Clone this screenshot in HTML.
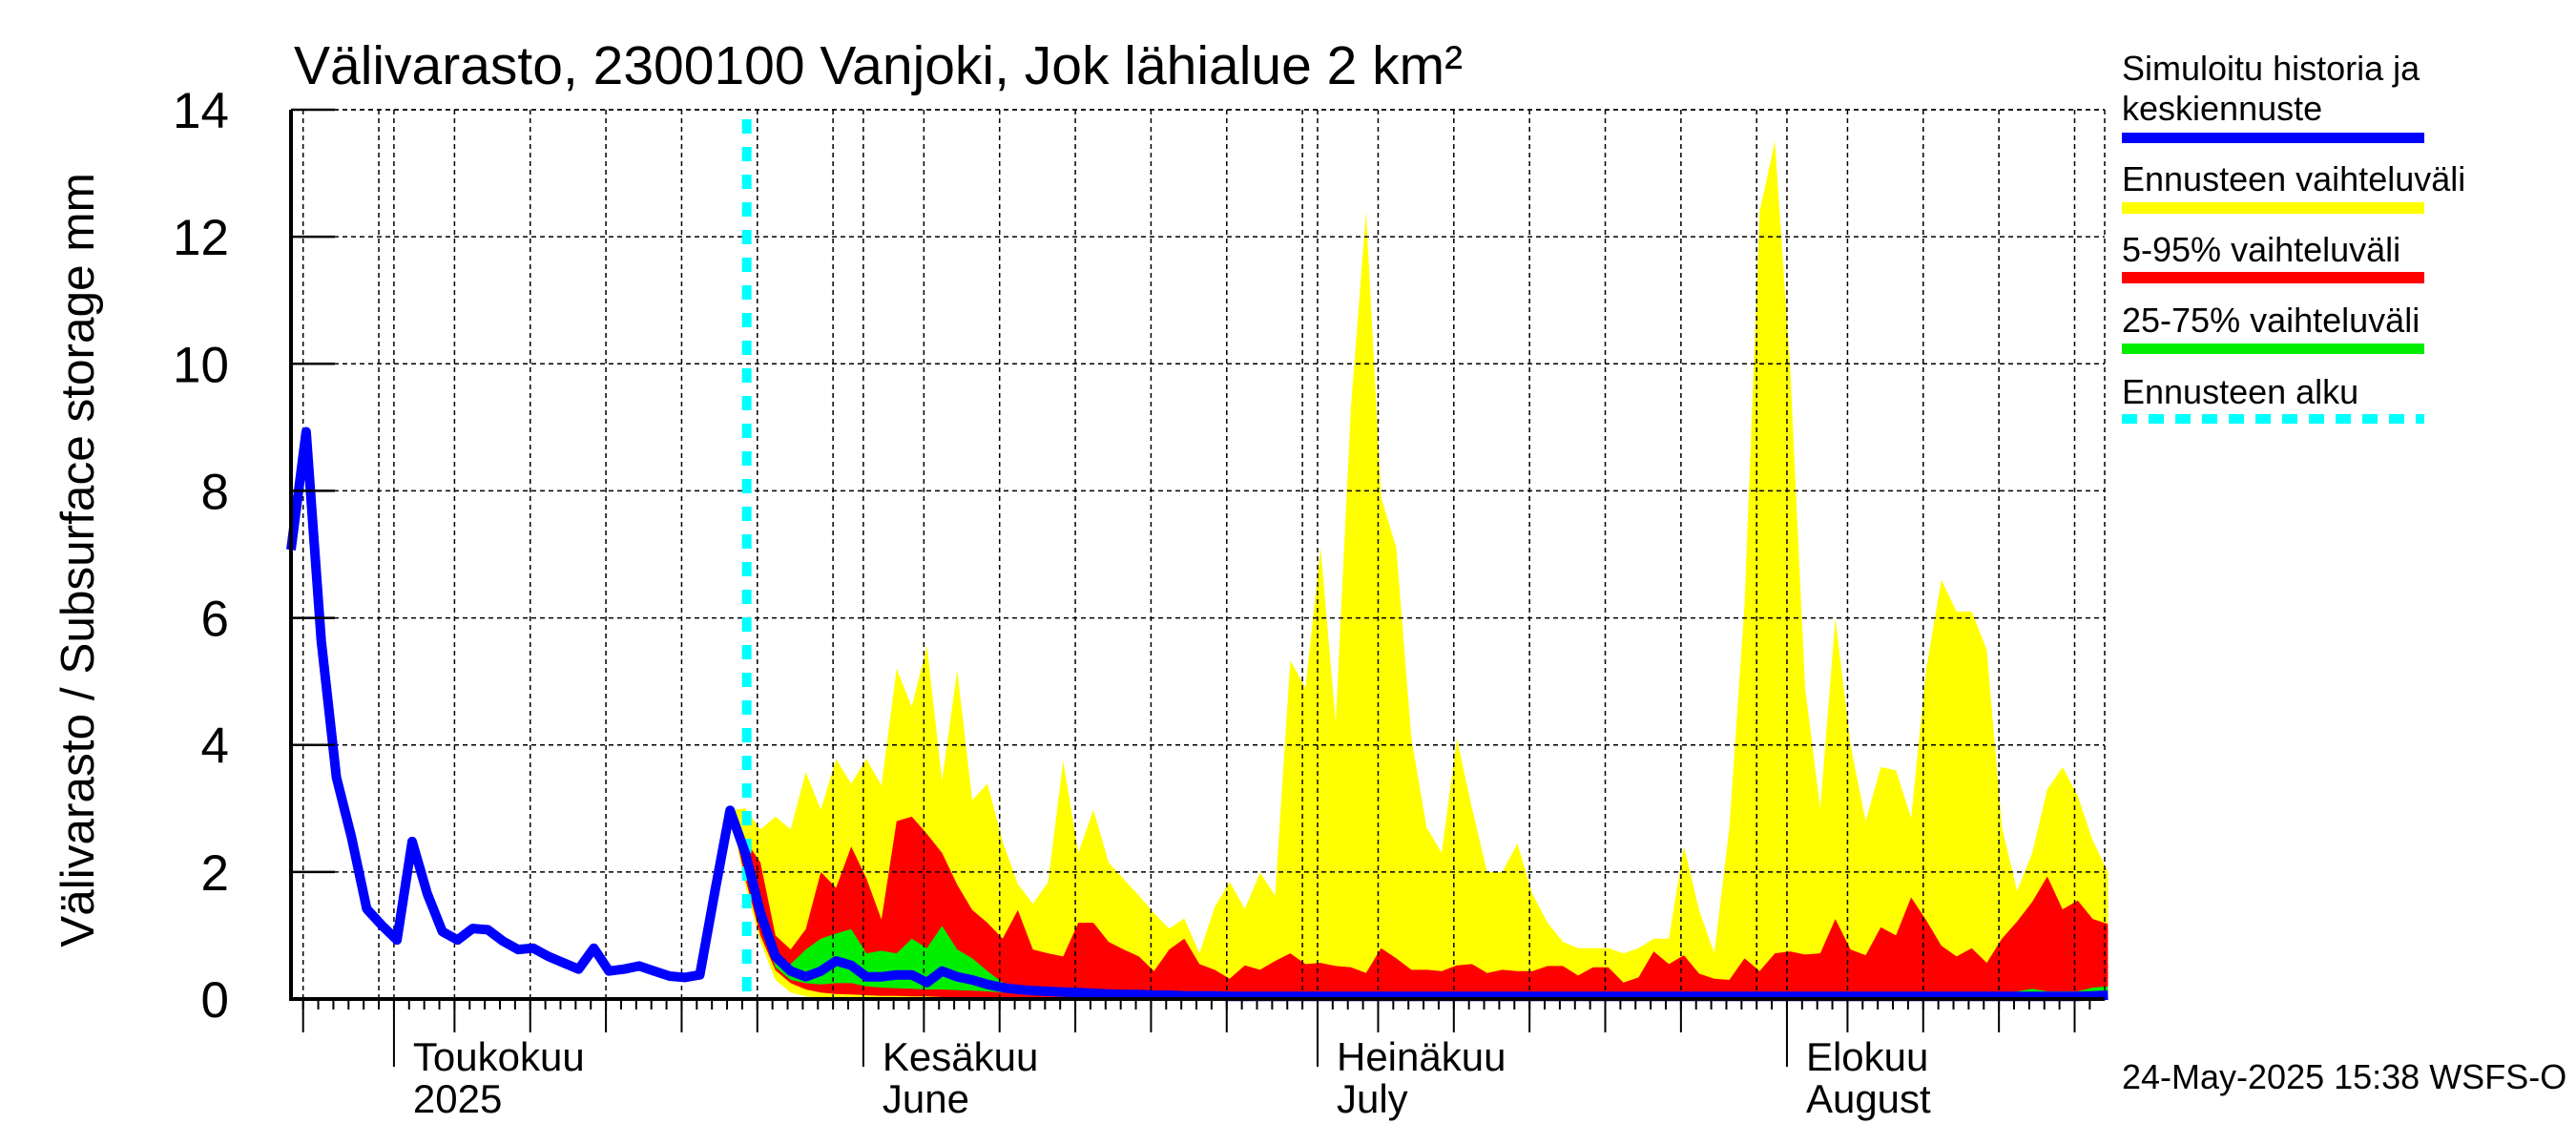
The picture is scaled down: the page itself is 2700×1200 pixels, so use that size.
<!DOCTYPE html>
<html><head><meta charset="utf-8"><style>
html,body{margin:0;padding:0;background:#fff}
svg{display:block;font-family:"Liberation Sans",sans-serif}
</style></head><body>
<svg id="chart" width="2700" height="1200" viewBox="0 0 2700 1200" xmlns="http://www.w3.org/2000/svg">
<g id="bands"></g>
<g id="grid"></g>
<g id="lines"></g>
<g id="axes"></g>
<text x="308" y="88" font-size="57">Välivarasto, 2300100 Vanjoki, Jok lähialue 2 km²</text>
<text transform="translate(98,587) rotate(-90)" text-anchor="middle" font-size="49.5">Välivarasto / Subsurface storage  mm</text>
<g font-size="36">
<text x="2224" y="84">Simuloitu historia ja</text>
<text x="2224" y="126">keskiennuste</text>
<rect x="2224" y="139" width="317" height="11" fill="#0000ff"/>
<text x="2224" y="200">Ennusteen vaihteluväli</text>
<rect x="2224" y="212" width="317" height="12" fill="#ffff00"/>
<text x="2224" y="274">5-95% vaihteluväli</text>
<rect x="2224" y="285" width="317" height="12" fill="#ff0000"/>
<text x="2224" y="348">25-75% vaihteluväli</text>
<rect x="2224" y="360" width="317" height="11" fill="#00ee00"/>
<text x="2224" y="423">Ennusteen alku</text>
<line x1="2224" y1="439" x2="2541" y2="439" stroke="#00ffff" stroke-width="10" stroke-dasharray="16,12"/>
</g>
<text x="2224" y="1141" font-size="36">24-May-2025 15:38 WSFS-O</text>
</svg>
<script>
// day index 0 = left edge; May 1 = index 6.8
const history = [7.07,8.93,5.64,3.49,2.54,1.42,1.16,0.93,2.48,1.66,1.06,0.93,1.11,1.09,0.91,0.78,0.80,0.67,0.57,0.47,0.80,0.44,0.47,0.52,0.44,0.36,0.34,0.38,1.7,2.97];
const fcStart = 29;
const median = [2.97,2.3,1.36,0.67,0.44,0.35,0.44,0.6,0.53,0.35,0.35,0.38,0.38,0.26,0.44,0.35,0.3,0.23,0.18,0.15,0.13,0.12,0.11,0.1,0.09,0.08,0.07,0.07,0.06,0.06,0.05,0.05,0.05,0.04,0.04,0.04,0.04,0.04,0.04,0.04,0.04,0.04,0.04,0.04,0.04,0.04,0.04,0.04,0.04,0.04,0.04,0.04,0.04,0.04,0.04,0.04,0.04,0.04,0.04,0.04,0.04,0.04,0.04,0.04,0.04,0.04,0.04,0.04,0.04,0.04,0.04,0.04,0.04,0.04,0.04,0.04,0.04,0.04,0.04,0.04,0.04,0.04,0.04,0.04,0.04,0.04,0.04,0.04,0.04,0.04,0.05,0.06];
const yellowMax = [2.97,3.0,2.67,2.87,2.67,3.57,2.98,3.78,3.39,3.78,3.36,5.2,4.6,5.56,3.44,5.18,3.13,3.39,2.48,1.81,1.5,1.84,3.75,2.3,2.98,2.15,1.89,1.63,1.35,1.11,1.27,0.72,1.45,1.84,1.42,1.99,1.63,5.33,4.9,7.1,4.35,9.3,12.4,7.9,7.1,4.1,2.7,2.3,4.1,3.0,2.0,2.0,2.45,1.65,1.2,0.9,0.8,0.8,0.8,0.72,0.8,0.95,0.95,2.4,1.4,0.72,2.7,6.2,12.4,13.5,10.0,4.9,3.0,6.0,4.0,2.8,3.65,3.6,2.85,5.2,6.6,6.1,6.1,5.5,2.7,1.7,2.3,3.3,3.65,3.2,2.5,2.0];
const red95 = [2.97,2.5,2.15,1.0,0.78,1.1,2.0,1.75,2.4,1.9,1.25,2.8,2.87,2.6,2.3,1.8,1.4,1.2,0.95,1.4,0.78,0.72,0.67,1.2,1.2,0.9,0.78,0.67,0.44,0.78,0.95,0.55,0.46,0.32,0.53,0.46,0.6,0.72,0.55,0.57,0.52,0.5,0.41,0.8,0.64,0.46,0.46,0.44,0.53,0.55,0.41,0.46,0.44,0.44,0.52,0.52,0.37,0.5,0.5,0.26,0.34,0.75,0.55,0.69,0.4,0.32,0.3,0.64,0.44,0.72,0.75,0.7,0.72,1.26,0.78,0.69,1.13,1.0,1.6,1.24,0.84,0.67,0.8,0.57,0.95,1.22,1.53,1.93,1.41,1.55,1.26,1.18];
const green75 = [2.97,2.2,1.4,0.55,0.55,0.78,0.95,1.03,1.1,0.72,0.76,0.72,0.95,0.8,1.15,0.78,0.64,0.44,0.26,0.2,0.2,0.18,0.17,0.16,0.15,0.14,0.13,0.12,0.11,0.1,0.1,0.09,0.09,0.08,0.08,0.08,0.08,0.08,0.07,0.07,0.07,0.07,0.07,0.07,0.07,0.07,0.07,0.07,0.07,0.07,0.07,0.07,0.07,0.07,0.07,0.07,0.07,0.07,0.07,0.07,0.07,0.07,0.07,0.07,0.07,0.07,0.07,0.07,0.07,0.08,0.08,0.07,0.07,0.08,0.08,0.08,0.08,0.08,0.08,0.1,0.1,0.11,0.11,0.1,0.1,0.12,0.16,0.12,0.12,0.12,0.18,0.2];
const green25 = [2.97,2.0,1.2,0.5,0.3,0.25,0.23,0.25,0.25,0.2,0.18,0.17,0.16,0.15,0.15,0.14,0.13,0.12,0.1,0.09,0.08,0.07,0.06,0.05,0.05,0.04,0.04,0.03,0.03,0.03,0.03,0.03,0.03,0.03,0.03,0.03,0.03,0.03,0.03,0.03,0.03,0.03,0.03,0.03,0.03,0.03,0.03,0.03,0.03,0.03,0.03,0.03,0.03,0.03,0.03,0.03,0.03,0.03,0.03,0.03,0.03,0.03,0.03,0.03,0.03,0.03,0.03,0.03,0.03,0.03,0.03,0.03,0.03,0.03,0.03,0.03,0.03,0.03,0.03,0.03,0.03,0.03,0.03,0.03,0.03,0.03,0.03,0.03,0.03,0.03,0.03,0.03];
const red5 = [2.97,1.9,1.0,0.45,0.25,0.15,0.1,0.08,0.07,0.06,0.05,0.05,0.04,0.04,0.03,0.03,0.02,0.02,0.02,0.02,0.02,0.02,0.02,0.02,0.02,0.02,0.02,0.02,0.02,0.02,0.02,0.02,0.02,0.02,0.02,0.02,0.02,0.02,0.02,0.02,0.02,0.02,0.02,0.02,0.02,0.02,0.02,0.02,0.02,0.02,0.02,0.02,0.02,0.02,0.02,0.02,0.02,0.02,0.02,0.02,0.02,0.02,0.02,0.02,0.02,0.02,0.02,0.02,0.02,0.02,0.02,0.02,0.02,0.02,0.02,0.02,0.02,0.02,0.02,0.02,0.02,0.02,0.02,0.02,0.02,0.02,0.02,0.02,0.02,0.02,0.02,0.02];
const yellowMin = [2.97,1.8,0.9,0.3,0.1,0.04,0.02,0.01,0,0,0,0,0,0,0,0,0,0,0,0,0,0,0,0,0,0,0,0,0,0,0,0,0,0,0,0,0,0,0,0,0,0,0,0,0,0,0,0,0,0,0,0,0,0,0,0,0,0,0,0,0,0,0,0,0,0,0,0,0,0,0,0,0,0,0,0,0,0,0,0,0,0,0,0,0,0,0,0,0,0,0,0];
const yTicks = [0,2,4,6,8,10,12,14];
const months = [{d:0,fi:"Toukokuu",en:"2025"},{d:31,fi:"Kesäkuu",en:"June"},{d:61,fi:"Heinäkuu",en:"July"},{d:92,fi:"Elokuu",en:"August"}];
const forecastStartIdx = 30.1;

const L=305,R=2206,T=115,B=1047,PXD=15.87,MAY1=6.8;
const X=i=>L+PXD*i;
const Y=v=>B-(B-T)*v/14;
const NS="http://www.w3.org/2000/svg";
function mk(tag,attrs,parent){const e=document.createElementNS(NS,tag);for(const k in attrs)e.setAttribute(k,attrs[k]);parent.appendChild(e);return e;}
const bands=document.getElementById('bands'),grid=document.getElementById('grid'),lines=document.getElementById('lines'),axes=document.getElementById('axes');

function band(up,lo,color,name){
  let pts=up.map((v,k)=>X(fcStart+k).toFixed(1)+","+Y(v).toFixed(1));
  for(let k=lo.length-1;k>=0;k--)pts.push(X(fcStart+k).toFixed(1)+","+Y(lo[k]).toFixed(1));
  const p=mk('polygon',{points:pts.join(' '),fill:color},bands);
  
  
}
band(yellowMax,yellowMin,'#ffff00','band-full-range');
band(red95,red5,'#ff0000','band-5-95');
band(green75,green25,'#00ee00','band-25-75');

yTicks.forEach(v=>{if(v>0){const l=mk('line',{x1:L,x2:R,y1:Y(v),y2:Y(v),stroke:'#000','stroke-width':1.5,'stroke-dasharray':'5,4'},grid);

}});
const mStartDay=[-30,0,31,61,92];
for(let m=0;m<5;m++){
  for(let dd=5;dd<=30;dd+=5){
    const i=MAY1+mStartDay[m]+dd-1; const x=X(i);
    if(x<L||x>R)continue;
    const l=mk('line',{x1:x,x2:x,y1:T,y2:B,stroke:'#000','stroke-width':1.5,'stroke-dasharray':'5,4'},grid);
    
    
    if(dd<30){
    const t=mk('line',{x1:x,x2:x,y1:B,y2:1082,stroke:'#000','stroke-width':2},axes);
    
    }
  }
}
months.forEach(mo=>{const x=X(MAY1+mo.d);
  const l=mk('line',{x1:x,x2:x,y1:T,y2:B,stroke:'#000','stroke-width':1.5,'stroke-dasharray':'5,4'},grid);
  
  
  const t=mk('line',{x1:x,x2:x,y1:B,y2:1118,stroke:'#000','stroke-width':2},axes);
  
  
  const a=mk('text',{x:x+20,y:1122,'font-size':42},axes);a.textContent=mo.fi;
  
  
  const b=mk('text',{x:x+20,y:1166,'font-size':42},axes);b.textContent=mo.en;
  
  
});
for(let i=Math.ceil(-MAY1);i<=120;i++){const x=X(MAY1+i);if(x<L+2||x>R)continue;
  const t=mk('line',{x1:x,x2:x,y1:B,y2:1058,stroke:'#000','stroke-width':2},axes);
  
  }
let tb=mk('line',{x1:L,x2:R,y1:T,y2:T,stroke:'#000','stroke-width':1.5,'stroke-dasharray':'5,4'},grid);


let rb=mk('line',{x1:R,x2:R,y1:T,y2:B,stroke:'#000','stroke-width':1.5,'stroke-dasharray':'5,4'},grid);



const cy=mk('line',{x1:X(forecastStartIdx),x2:X(forecastStartIdx),y1:125,y2:B,stroke:'#00ffff','stroke-width':10,'stroke-dasharray':'15,14'},lines);


let pts=history.map((v,i)=>X(i).toFixed(1)+","+Y(v).toFixed(1));
median.forEach((v,k)=>{if(k>0)pts.push(X(fcStart+k).toFixed(1)+","+Y(v).toFixed(1));});
const bl=mk('polyline',{points:pts.join(' '),fill:'none',stroke:'#0000ff','stroke-width':10,'stroke-linejoin':'round'},lines);



let ya=mk('line',{x1:L,x2:L,y1:T,y2:B+2,stroke:'#000','stroke-width':4},axes);


let xa=mk('line',{x1:L,x2:R,y1:B,y2:B,stroke:'#000','stroke-width':4},axes);


yTicks.forEach(v=>{
  const t=mk('line',{x1:L,x2:L+46,y1:Y(v),y2:Y(v),stroke:'#000','stroke-width':2.5},axes);
  
  
  const tx=mk('text',{x:240,y:Y(v)+19,'font-size':53,'text-anchor':'end'},axes);tx.textContent=v;
  
  
});
</script>
</body></html>
